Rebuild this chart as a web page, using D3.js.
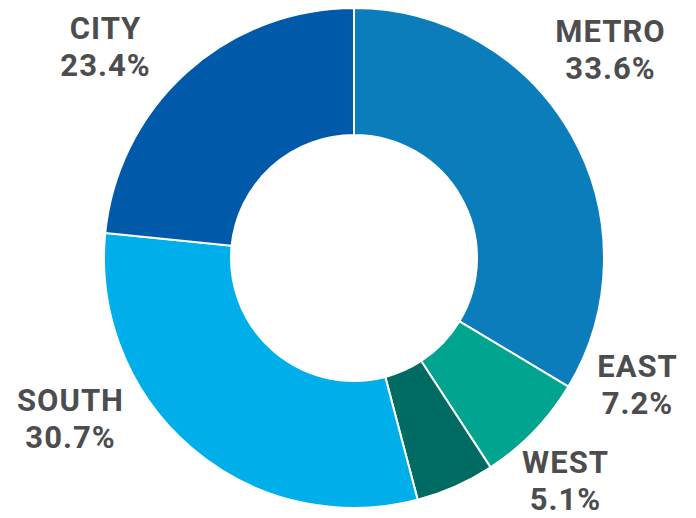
<!DOCTYPE html>
<html>
<head>
<meta charset="utf-8">
<script src="https://cdn.jsdelivr.net/npm/d3@7/dist/d3.min.js"></script>
<style>
html,body{margin:0;padding:0;background:#fff;}
svg{display:block;}
</style>
</head>
<body>
<svg id="chart" width="696" height="518"></svg>
<script>
const categories = ["METRO", "EAST", "WEST", "SOUTH", "CITY"];
const values = [33.6, 7.2, 5.1, 30.7, 23.4];
const valueLabels = ["33.6%", "7.2%", "5.1%", "30.7%", "23.4%"];

// layout / style (kept separate from data)
const colors = ["#0a7dba", "#00a48f", "#006b63", "#00aeea", "#005aa9"];
const labelAnchors = [[610, 42], [637, 377], [565, 473], [70, 411], [105, 39]];

const svg = d3.select("#chart");
const cx = 354, cy = 258, outerR = 250, innerR = 123;

const data = categories.map((c, i) => ({cat: c, value: values[i], label: valueLabels[i], color: colors[i], anchor: labelAnchors[i]}));

const pie = d3.pie().sort(null).value(d => d.value);
const arc = d3.arc().innerRadius(innerR).outerRadius(outerR);

const g = svg.append("g").attr("transform", `translate(${cx},${cy})`);
g.selectAll("path").data(pie(data)).enter().append("path")
  .attr("d", arc)
  .attr("fill", d => d.data.color)
  .attr("stroke", "#fff")
  .attr("stroke-width", 2);

const lab = svg.selectAll("g.lab").data(data).enter().append("g").attr("class", "lab");
const txt = (sel) => sel
  .attr("text-anchor", "middle")
  .attr("font-family", "Roboto, sans-serif")
  .attr("font-weight", "bold")
  .attr("font-size", 31)
  .attr("letter-spacing", 1)
  .attr("fill", "#4d4d4f");
lab.append("text").call(txt).attr("x", d => d.anchor[0] + 0.5).attr("y", d => d.anchor[1]).text(d => d.cat);
lab.append("text").call(txt).attr("x", d => d.anchor[0] + 0.5).attr("y", d => d.anchor[1] + 37).text(d => d.label);
</script>
</body>
</html>
